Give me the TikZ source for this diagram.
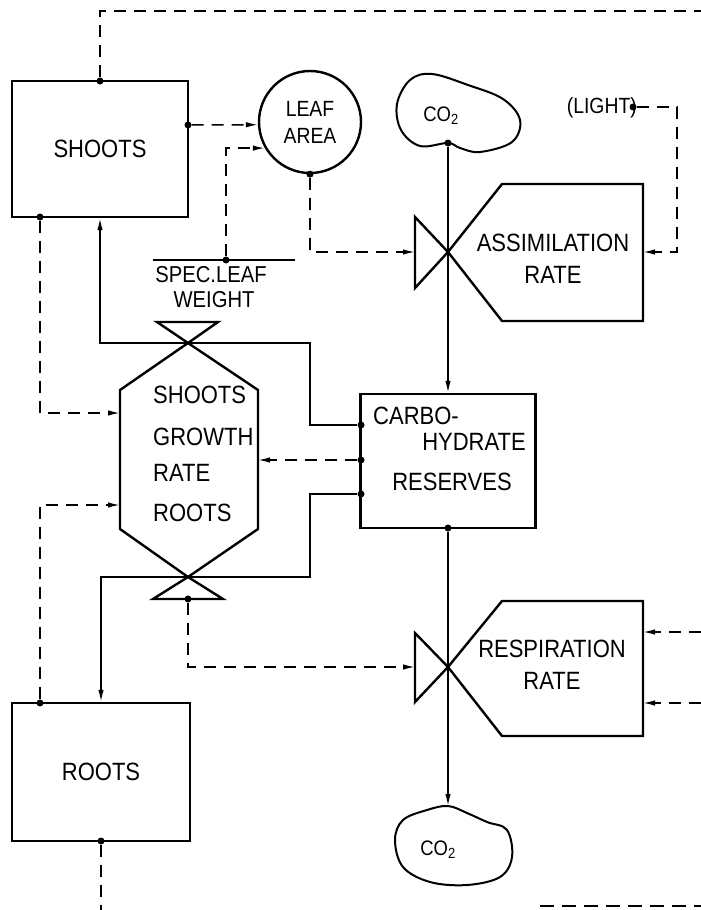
\documentclass[tikz,border=0pt]{standalone}
\usepackage{fontspec}
\setmainfont{Liberation Sans}[FakeStretch=0.88]
\usetikzlibrary{arrows.meta}

\begin{document}
\begin{tikzpicture}[x=1pt, y=-1pt,
    level/.style={draw, line width=2.4pt, rectangle, inner sep=0pt, font=\fontsize{25}{32}\selectfont},
    txt/.style={inner sep=0pt, font=\fontsize{25}{32}\selectfont},
    valve/.style={line width=2.4pt, line join=miter},
    flow/.style={line width=1.5pt, -{Latex[length=12pt,width=5.5pt]}},
    info/.style={line width=1.5pt, dash pattern=on 12pt off 8pt, -{Latex[length=12pt,width=5.5pt]}},
    infoline/.style={line width=1.5pt, dash pattern=on 12pt off 8pt},
    joint/.style={circle, fill, inner sep=0pt, minimum size=7pt}]

    \useasboundingbox (0,0) rectangle (701,910);

    % Draw levels
    \node[level, minimum width=176pt, minimum height=136pt] (shoots) at (100,149) {SHOOTS};
    \node[level, minimum width=178pt, minimum height=138pt] (roots) at (101,772) {ROOTS};
    \node[level, minimum width=175pt, minimum height=134pt] (carbo) at (448,461) {};
    \node[txt, anchor=west] (carboA) at (373,416) {CARBO-};
    \node[txt] (carboB) at (474,442) {HYDRATE};
    \node[txt] (carboC) at (452,482) {RESERVES};

    % Leaf area and specific leaf weight
    \node[draw, circle, line width=2.4pt, minimum size=102pt, inner sep=0pt, align=center,
          font=\fontsize{22}{27}\selectfont] (leaf) at (310,122) {LEAF\\AREA};
    \draw[line width=2pt] (153,260) -- (295,260);
    \node[txt, font=\fontsize{23}{28}\selectfont] (slwA) at (211,275) {SPEC.LEAF};
    \node[txt, font=\fontsize{23}{28}\selectfont] (slwB) at (214,300) {WEIGHT};

    % CO2 sources and sinks
    \draw[line width=2pt] plot[smooth cycle, tension=0.6] coordinates {(448,143) (420,146) (401,130) (397,104) (410,80) (432,74) (468,85) (503,99) (520,120) (512,142) (480,152) (460,148)};
    \node[font=\fontsize{21}{24}\selectfont, inner sep=0pt] (co2a) at (441,116) {CO\textsubscript{2}};
    \draw[line width=2pt] plot[smooth cycle, tension=0.6] coordinates {(448,806) (427,810) (403,820) (395,840) (403,867) (430,882) (467,885) (500,877) (512,857) (507,830) (487,822) (467,813)};
    \node[font=\fontsize{21}{24}\selectfont, inner sep=0pt] (co2b) at (438,850) {CO\textsubscript{2}};

    % Light
    \node[inner sep=0pt, anchor=east, font=\fontsize{22}{24}\selectfont] (light) at (637,108) {(LIGHT)};

    % Assimilation rate
    \coordinate (av) at (448,252);
    \draw[valve] (av) -- (415,217) -- (415,288) -- cycle;
    \draw[valve] (av) -- (502,184) -- (643,184) -- (643,321) -- (502,321) -- cycle;
    \node[txt, align=center] (assim) at (553,259) {ASSIMILATION\\RATE};

    % Respiration rate
    \coordinate (rv) at (448,667);
    \draw[valve] (rv) -- (415,633) -- (415,702) -- cycle;
    \draw[valve] (rv) -- (502,601) -- (643,601) -- (643,736) -- (502,736) -- cycle;
    \node[txt, align=center] (resp) at (552,665) {RESPIRATION\\RATE};

    % Growth rate
    \coordinate (gTop) at (188,343);
    \coordinate (gBot) at (188,577);
    \draw[valve] (gTop) -- (157,322) -- (218,322) -- cycle;
    \draw[valve] (gTop) -- (258,390) -- (258,529) -- (gBot) -- (120,529) -- (120,390) -- cycle;
    \draw[valve] (gBot) -- (153,599) -- (223,599) -- cycle;
    \node[txt, anchor=west] (gA) at (153,395) {SHOOTS};
    \node[txt, anchor=west] (gB) at (153,437) {GROWTH};
    \node[txt, anchor=west] (gC) at (153,473) {RATE};
    \node[txt, anchor=west] (gD) at (153,513) {ROOTS};

    % Connection points
    \node[joint] (shootsTop) at (100,81) {};
    \node[joint] (shootsR) at (188,125) {};
    \node[joint] (shootsBL) at (40,217) {};
    \node[joint] (rootsTL) at (40,703) {};
    \node[joint] (rootsB) at (101,841) {};
    \node[joint] (slwDot) at (226,260) {};
    \node[joint] (leafDot) at (leaf.south) {};
    \node[joint] (co2aDot) at (448,143) {};
    \node[joint] (lightDot) at (633,107) {};
    \node[joint] (carboL1) at (361,425) {};
    \node[joint] (carboL2) at (361,460) {};
    \node[joint] (carboL3) at (361,494) {};
    \node[joint] (carboBot) at (448,528) {};
    \node[joint] (gBotDot) at (188,599) {};

    \coordinate (topOut) at (701,11);
    \coordinate (avIn) at (415,252);
    \coordinate (rvIn) at (415,667);
    \coordinate (assimIn) at (643,252);
    \coordinate (lightCorner) at (677,107);
    \coordinate (respInA) at (643,632);
    \coordinate (respInB) at (643,703);
    \coordinate (edgeA) at (701,632);
    \coordinate (edgeB) at (701,703);
    \coordinate (gLeftA) at (120,413);
    \coordinate (gLeftB) at (120,505);
    \coordinate (gRight) at (258,460);
    \coordinate (shootsJog) at (310,343);
    \coordinate (rootsJog) at (310,577);
    \coordinate (rootsOut) at (101,910);

    % Material flows
    \draw[flow] (co2aDot) -- (carbo.north);
    \draw[flow] (carboBot) -- (448,806);
    \draw[flow] (carboL1) -| (shootsJog) -| (shoots.south);
    \draw[flow] (carboL3) -| (rootsJog) -| (roots.north);

    % Information flows
    \draw[infoline] (shootsTop) |- (topOut);
    \draw[info] (shootsR) -- (leaf.183);
    \draw[info] (slwDot) |- (leaf.210);
    \draw[info] (leafDot) |- (avIn);
    \draw[info] (lightDot) -- (lightCorner) |- (assimIn);
    \draw[info] (carboL2) -- (gRight);
    \draw[info] (shootsBL) |- (gLeftA);
    \draw[info] (rootsTL) |- (gLeftB);
    \draw[info] (gBotDot) |- (rvIn);
    \draw[info] (edgeA) -- (respInA);
    \draw[info] (edgeB) -- (respInB);
    \draw[infoline] (rootsB) -- (rootsOut);
    \draw[line width=2.5pt, dash pattern=on 14pt off 8pt] (540,906) -- (701,906);

\end{tikzpicture}
\end{document}
